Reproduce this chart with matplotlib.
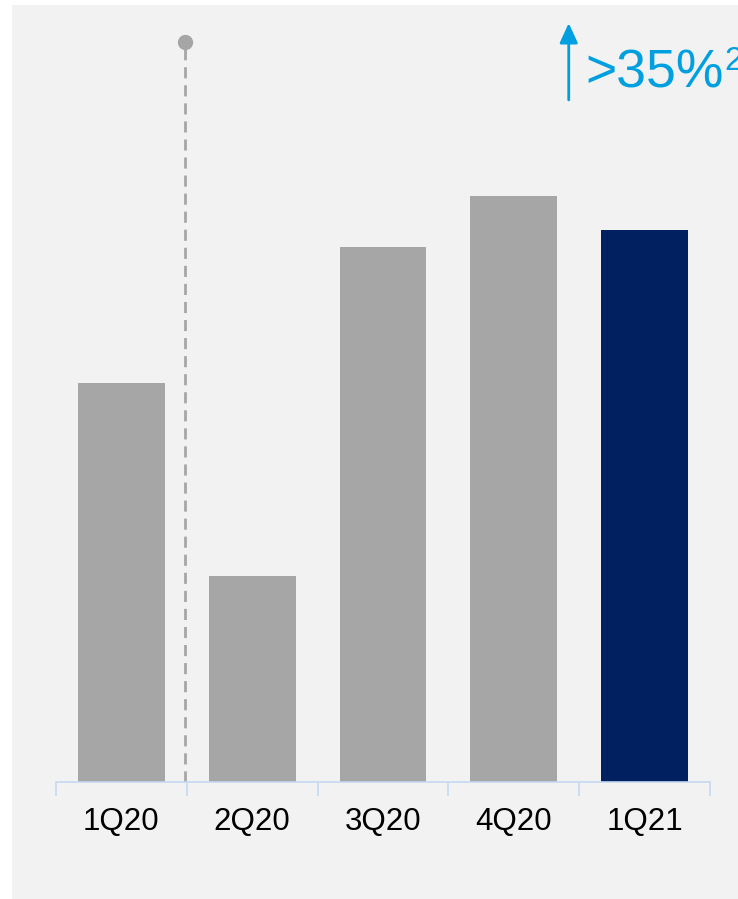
import matplotlib.pyplot as plt
from matplotlib.patches import Rectangle

quarters = ['1Q20', '2Q20', '3Q20', '4Q20', '1Q21']
values = [68.1, 35.2, 91.3, 100.0, 94.2]   # indexed, 4Q20 = 100
bar_colors = ['#a6a6a6', '#a6a6a6', '#a6a6a6', '#a6a6a6', '#002060']
growth_label = '>35%'
footnote = '2'

plt.rcParams['font.family'] = ['Liberation Sans', 'DejaVu Sans']

W, H = 738, 899
fig = plt.figure(figsize=(W / 100, H / 100), dpi=100)
fig.patch.set_facecolor('white')

# light grey panel behind everything
fig.add_artist(Rectangle((12 / W, 0), 1, 1 - 5 / H, transform=fig.transFigure,
                         facecolor='#f2f2f2', edgecolor='none', zorder=-10))

ax_left, ax_right = 56 / W, 710 / W
ax_bot, ax_top = 1 - 782 / H, 1 - 20 / H
ax = fig.add_axes([ax_left, ax_bot, ax_right - ax_left, ax_top - ax_bot])
ax.set_facecolor('none')

x = list(range(len(quarters)))
ax.bar(x, values, width=0.665, color=bar_colors, zorder=2)

ax.set_xlim(-0.5, len(quarters) - 0.5)
ax.set_ylim(0, 762 / 5.86)

for s in ['top', 'right', 'left']:
    ax.spines[s].set_visible(False)
ax.spines['bottom'].set_color('#c6d9f1')
ax.spines['bottom'].set_linewidth(1.2)
ax.set_yticks([])

ax.set_xticks(x)
ax.set_xticklabels(quarters, fontsize=22.5)
ax.tick_params(axis='x', which='major', length=0, pad=18)
ax.set_xticks([i - 0.5 for i in range(len(quarters) + 1)], minor=True)
ax.tick_params(axis='x', which='minor', length=10, color='#c6d9f1', width=1.2)

# dashed divider with dot
ax.plot([0.49, 0.49], [0, 126.3], ls=(0, (4, 2.5)), color='#a6a6a6', lw=2,
        zorder=1, clip_on=False)
ax.plot([0.49], [126.3], 'o', color='#a6a6a6', ms=10, clip_on=False, zorder=3)

# growth arrow and label
ax.annotate('', xy=(3.42, 129.5), xytext=(3.42, 116.4),
            arrowprops=dict(arrowstyle='-|>,head_width=0.55,head_length=1.2',
                            color='#00a0e0', lw=2, shrinkA=0, shrinkB=0),
            annotation_clip=False)
fig.text(585 / W, 1 - 88 / H, growth_label, fontsize=38.5, color='#00a0e0',
         ha='left', va='baseline')
fig.text(724 / W, 1 - 70 / H, footnote, fontsize=24, color='#00a0e0',
         ha='left', va='baseline')

fig.savefig('out.png', dpi=100)
